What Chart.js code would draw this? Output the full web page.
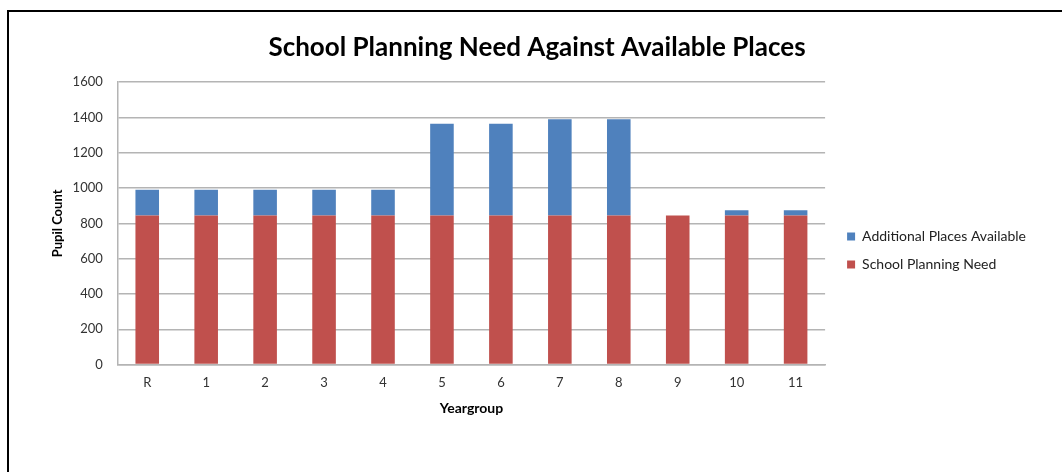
<!DOCTYPE html>
<html>
<head>
<meta charset="utf-8">
<title>School Planning Need Against Available Places</title>
<script src="https://cdn.jsdelivr.net/npm/chart.js@4/dist/chart.umd.min.js"></script>
<style>
    html, body { margin: 0; padding: 0; background: #fff; overflow: hidden; }
    .frame {
        position: absolute;
        left: 7px;
        top: 10px;
        width: 1070px;
        height: 480px;
        border: 2px solid #000;
        box-sizing: border-box;
    }
    .chart-box {
        position: absolute;
        left: 9px;
        top: 12px;
        width: 1053px;
        height: 460px;
    }
</style>
</head>
<body>
<div class="frame"></div>
<div class="chart-box"><canvas id="places-chart"></canvas></div>
<script>
var yearGroups = ['R', '1', '2', '3', '4', '5', '6', '7', '8', '9', '10', '11'];
var planningNeed = [845, 845, 845, 845, 845, 845, 845, 845, 845, 845, 845, 845];
var additionalPlaces = [145, 145, 145, 145, 145, 520, 520, 545, 545, 0, 30, 30];
var yTicks = [0, 200, 400, 600, 800, 1000, 1200, 1400, 1600];

var fontFamily = 'Lato, "Open Sans", sans-serif';
var gridGrey = '#b4b4b4';

// nudge the legend box a little right and down from where the layout puts it
var legendOffset = {
    id: 'legendOffset',
    afterLayout: function(chart) {
        var legend = chart.legend,
            dx = 8,
            dy = 34;

        legend.left += dx;
        legend.right += dx;
        legend.top += dy;
        legend.bottom += dy;
    }
};

new Chart(document.getElementById('places-chart').getContext('2d'), {
    type: 'bar',
    data: {
        labels: yearGroups,
        datasets: [{
            label: 'School Planning Need',
            data: planningNeed,
            backgroundColor: '#c0504d',
            borderWidth: 0,
            barPercentage: 0.8,
            categoryPercentage: 0.5
        }, {
            label: 'Additional Places Available',
            data: additionalPlaces,
            backgroundColor: '#4f81bd',
            borderWidth: 0,
            barPercentage: 0.8,
            categoryPercentage: 0.5
        }]
    },
    plugins: [legendOffset],
    options: {
        responsive: true,
        maintainAspectRatio: false,
        animation: false,
        layout: {
            padding: { left: 37, right: 34, top: 0, bottom: 51 }
        },
        plugins: {
            title: {
                display: true,
                text: 'School Planning Need Against Available Places',
                color: '#000',
                font: { family: fontFamily, size: 26, weight: 'bold' },
                padding: { top: 20, bottom: 19 }
            },
            legend: {
                position: 'right',
                reverse: true,
                labels: {
                    boxWidth: 8,
                    boxHeight: 8,
                    padding: 14,
                    color: '#222',
                    font: { family: fontFamily, size: 14 }
                }
            },
            tooltip: { enabled: false }
        },
        scales: {
            x: {
                stacked: true,
                grid: { display: false, drawTicks: false },
                border: { color: gridGrey, width: 1.5 },
                ticks: {
                    color: '#333',
                    padding: 10,
                    font: { family: fontFamily, size: 13 }
                },
                title: {
                    display: true,
                    text: 'Yeargroup',
                    color: '#000',
                    font: { family: fontFamily, size: 14, weight: 'bold' },
                    padding: { top: 0, bottom: 4 }
                }
            },
            y: {
                stacked: true,
                min: 0,
                max: 1600,
                afterBuildTicks: function(axis) {
                    axis.ticks = yTicks.map(function(v) { return { value: v }; });
                },
                grid: { color: gridGrey, lineWidth: 1.5, tickLength: 11, tickColor: 'transparent' },
                border: { color: gridGrey, width: 1.5 },
                ticks: {
                    color: '#333',
                    padding: 4,
                    font: { family: fontFamily, size: 13 },
                    callback: function(value) {
                        return String(value);
                    }
                },
                title: {
                    display: true,
                    text: 'Pupil Count',
                    color: '#000',
                    font: { family: fontFamily, size: 13, weight: 'bold' },
                    padding: { top: 4, bottom: 3 }
                }
            }
        }
    }
});
</script>
</body>
</html>
